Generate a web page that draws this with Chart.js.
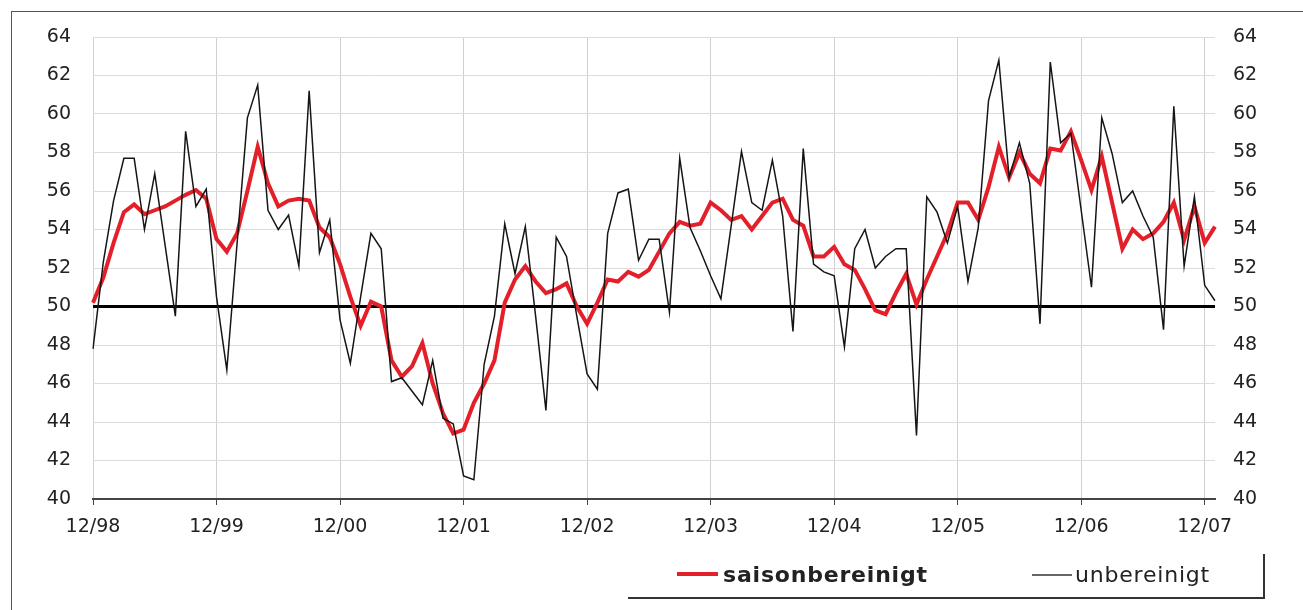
<!DOCTYPE html>
<html lang="de">
<head>
    <meta charset="UTF-8">
    <title>saisonbereinigt / unbereinigt</title>
    <script src="https://cdn.jsdelivr.net/npm/chart.js"></script>
    <style>
        html, body { margin: 0; padding: 0; background: #fff; }
        #rahmen { position: absolute; left: 11px; top: 11px; width: 1320px; height: 640px;
                  border-top: 1px solid #555; border-left: 1px solid #555; }
        #wrap { position: absolute; left: 0; top: 0; width: 1303px; height: 610px; }
    </style>
</head>
<body>
<div id="rahmen"></div>
<div id="wrap"><canvas id="grafik" width="1303" height="610"></canvas></div>

<script>
    // Jahresmarken der x-Achse (jeweils Dezember)
    const jahresTicks = ['12/98', '12/99', '12/00', '12/01', '12/02', '12/03', '12/04', '12/05', '12/06', '12/07'];

    // Monate 12/98 .. 01/08
    const monate = [];
    for (let i = 0; i < 110; i++) {
        const m = (11 + i) % 12 + 1;
        const j = (98 + Math.floor((11 + i) / 12)) % 100;
        monate.push(String(m).padStart(2, '0') + '/' + String(j).padStart(2, '0'));
    }

    const saisonbereinigt = [
        50.2, 51.5, 53.3, 54.9, 55.3, 54.8, 55.0, 55.2, 55.5, 55.8, 56.05, 55.6,
        53.5, 52.85, 53.8, 56.0, 58.3, 56.4, 55.2, 55.5, 55.6, 55.5, 54.1, 53.6,
        52.2, 50.5, 49.0, 50.25, 50.0, 47.2, 46.35, 46.9, 48.1, 46.0, 44.45, 43.4,
        43.6, 45.0, 46.0, 47.2, 50.2, 51.4, 52.1, 51.3, 50.7, 50.9, 51.2, 50.0,
        49.1, 50.2, 51.4, 51.3, 51.8, 51.55, 51.9, 52.85, 53.8, 54.4, 54.2, 54.3,
        55.4, 55.0, 54.5, 54.7, 54.0, 54.7, 55.4, 55.6, 54.5, 54.2, 52.6, 52.6,
        53.1, 52.2, 51.9, 50.9, 49.8, 49.6, 50.7, 51.7, 50.1, 51.4, 52.6, 53.8,
        55.4, 55.4, 54.5, 56.2, 58.3, 56.7, 58.0, 56.9, 56.4, 58.2, 58.1, 59.1,
        57.6, 56.05, 57.8, 55.4, 53.0, 54.0, 53.5, 53.8, 54.4, 55.4, 53.45, 55.2,
        53.3, 54.15
    ];

    const unbereinigt = [
        47.8, 52.3, 55.5, 57.7, 57.7, 54.0, 56.9, 53.2, 49.5, 59.1, 55.2, 56.1,
        50.5, 46.7, 53.3, 59.8, 61.5, 55.0, 54.0, 54.75, 52.1, 61.2, 52.8, 54.5,
        49.3, 47.05, 50.5, 53.8, 53.0, 46.1, 46.3, 45.6, 44.9, 47.2, 44.2, 43.9,
        41.2, 41.0, 47.0, 49.5, 54.3, 51.7, 54.15, 49.5, 44.6, 53.6, 52.6, 49.5,
        46.5, 45.7, 53.8, 55.9, 56.1, 52.4, 53.5, 53.5, 49.7, 57.7, 54.1, 52.9,
        51.6, 50.4, 54.2, 58.05, 55.4, 55.0, 57.6, 54.7, 48.7, 58.2, 52.2, 51.8,
        51.6, 47.9, 53.0, 54.0, 52.0, 52.6, 53.0, 53.0, 43.3, 55.7, 54.9, 53.3,
        55.2, 51.3, 54.1, 60.7, 62.8, 56.7, 58.5, 56.4, 49.1, 62.7, 58.5, 59.0,
        55.0, 51.0, 59.8, 57.95, 55.4, 56.0, 54.7, 53.6, 48.8, 60.4, 52.1, 55.7,
        51.1, 50.3
    ];

    const schrift = '"DejaVu Sans", Verdana, sans-serif';

    // Legende unten rechts mit Rahmenlinie
    const legendePlugin = {
        id: 'legende',
        afterDraw(chart) {
            const ctx = chart.ctx;
            const ds = chart.data.datasets;
            const y = 576;
            ctx.save();
            ctx.textBaseline = 'middle';
            ctx.textAlign = 'left';
            ctx.letterSpacing = '0.8px';

            ctx.strokeStyle = ds[0].borderColor;
            ctx.lineWidth = 4;
            ctx.beginPath(); ctx.moveTo(677, y - 2); ctx.lineTo(718, y - 2); ctx.stroke();
            ctx.fillStyle = '#222';
            ctx.font = 'bold 22px ' + schrift;
            ctx.fillText(ds[0].label, 723, y);

            ctx.strokeStyle = '#333';
            ctx.lineWidth = 1.5;
            ctx.beginPath(); ctx.moveTo(1032, y - 1); ctx.lineTo(1072, y - 1); ctx.stroke();
            ctx.font = '22px ' + schrift;
            ctx.fillText(ds[1].label, 1075, y);

            ctx.strokeStyle = '#333';
            ctx.lineWidth = 2;
            ctx.beginPath();
            ctx.moveTo(628, 598); ctx.lineTo(1264, 598); ctx.lineTo(1264, 554);
            ctx.stroke();
            ctx.restore();
        }
    };

    const ctx = document.getElementById('grafik').getContext('2d');
    new Chart(ctx, {
        type: 'line',
        data: {
            labels: monate,
            datasets: [
                {
                    label: 'saisonbereinigt',
                    data: saisonbereinigt,
                    borderColor: '#e3202a',
                    borderWidth: 4,
                    pointRadius: 0,
                    tension: 0,
                    order: 1
                },
                {
                    label: 'unbereinigt',
                    data: unbereinigt,
                    borderColor: '#151515',
                    borderWidth: 1.5,
                    pointRadius: 0,
                    tension: 0,
                    order: 0
                }
            ]
        },
        options: {
            responsive: false,
            animation: false,
            layout: { padding: { top: 37, right: 0, bottom: 0, left: 0 } },
            plugins: {
                legend: { display: false },
                tooltip: { enabled: false }
            },
            scales: {
                x: {
                    afterFit: s => { s.height = 111; },
                    border: { color: '#444', width: 2 },
                    grid: {
                        color: c => (c.index % 12 === 0 ? '#d0d0d0' : 'rgba(0,0,0,0)'),
                        tickColor: c => (c.index % 12 === 0 ? '#444' : 'rgba(0,0,0,0)'),
                        tickLength: 6
                    },
                    ticks: {
                        autoSkip: false,
                        maxRotation: 0,
                        padding: 11,
                        color: '#222',
                        font: { family: schrift, size: 19 },
                        callback: (v, i) => (i % 12 === 0 ? jahresTicks[i / 12] : '')
                    }
                },
                y: {
                    position: 'left',
                    min: 40,
                    max: 64,
                    afterFit: s => { s.width = 93; },
                    border: { display: false },
                    grid: {
                        drawTicks: false,
                        color: c => (c.tick && c.tick.value === 50 ? '#000' : '#dcdcdc'),
                        lineWidth: c => (c.tick && c.tick.value === 50 ? 3 : 1)
                    },
                    ticks: {
                        stepSize: 2,
                        padding: 22,
                        color: '#222',
                        font: { family: schrift, size: 19 }
                    }
                },
                y2: {
                    position: 'right',
                    min: 40,
                    max: 64,
                    afterFit: s => { s.width = 88; },
                    border: { display: false },
                    grid: { display: false, drawTicks: false },
                    ticks: {
                        stepSize: 2,
                        padding: 18,
                        color: '#222',
                        font: { family: schrift, size: 19 }
                    }
                }
            }
        },
        plugins: [legendePlugin]
    });
</script>
</body>
</html>
